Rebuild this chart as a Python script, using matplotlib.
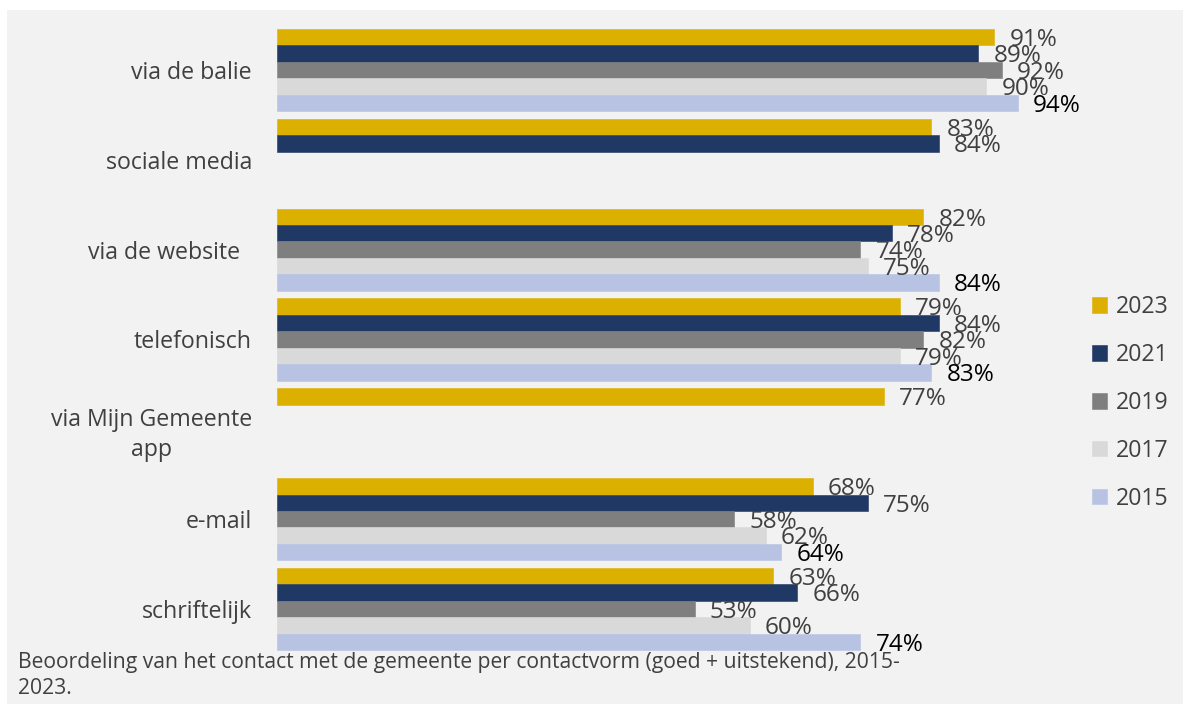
import numpy as np
import matplotlib.pyplot as plt
from matplotlib.patches import Rectangle

plt.rcParams['font.family'] = ['Open Sans', 'DejaVu Sans']

categories = ["via de balie", "sociale media", "via de website  ", "telefonisch",
              "via Mijn Gemeente\napp", "e-mail", "schriftelijk"]
years = ["2023", "2021", "2019", "2017", "2015"]
nan = np.nan
v2023 = [91, 83, 82, 79, 77, 68, 63]
v2021 = [89, 84, 78, 84, nan, 75, 66]
v2019 = [92, nan, 74, 82, nan, 58, 53]
v2017 = [90, nan, 75, 79, nan, 62, 60]
v2015 = [94, nan, 84, 83, nan, 64, 74]
series = [v2023, v2021, v2019, v2017, v2015]
colors = ["#dbb000", "#1f3864", "#7f7f7f", "#d9d9d9", "#b8c3e4"]
label_colors = ["#404040", "#404040", "#404040", "#404040", "#000000"]

W, H = 1183, 704
fig = plt.figure(figsize=(W / 100, H / 100), dpi=100)
fig.patch.set_facecolor("white")
fig.patches.append(Rectangle((7 / W, 0), 1 - 7 / W, 1 - 10 / H,
                             transform=fig.transFigure, facecolor="#f2f2f2",
                             edgecolor="none", zorder=-10))

ax = fig.add_axes([277 / W, 1 - 654 / H, 788 / W, 629 / H])
ax.set_facecolor("none")

y = np.arange(len(categories))
h = 0.183
for j, (vals, c) in enumerate(zip(series, colors)):
    pos = y + (j - 2) * h
    ax.barh(pos, vals, height=h, color=c, edgecolor=c, linewidth=0.4,
            label=years[j])
    for p, v in zip(pos, vals):
        if np.isnan(v):
            continue
        ax.annotate(f"{v:.0f}%", (v, p), xytext=(11, -2), textcoords="offset points",
                    va="center", ha="left", fontsize=17.5, color=label_colors[j])

ax.set_xlim(0, 100)
ax.set_ylim(6.5, -0.5)
ax.set_xticks([])
ax.set_yticks(y)
ax.set_yticklabels(categories, fontsize=16.7, color="#404040")
for lbl in ax.get_yticklabels():
    lbl.set_multialignment("center")
    lbl.set_linespacing(1.3)
ax.tick_params(axis="y", length=0, pad=18)
for s in ax.spines.values():
    s.set_visible(False)

leg = ax.legend(loc="center left", bbox_to_anchor=(1092 / W, 1 - 403 / H),
                bbox_transform=fig.transFigure, frameon=False, fontsize=16.7,
                handlelength=0.64, handleheight=0.64, handletextpad=0.4,
                labelspacing=1.03, borderpad=0, borderaxespad=0)
for t in leg.get_texts():
    t.set_color("#404040")

fig.text(18 / W, 1 - 652 / H,
         "Beoordeling van het contact met de gemeente per contactvorm (goed + uitstekend), 2015-\n2023.",
         ha="left", va="top", fontsize=15.2, color="#404040", linespacing=1.3)

fig.savefig("out.png", dpi=100)
